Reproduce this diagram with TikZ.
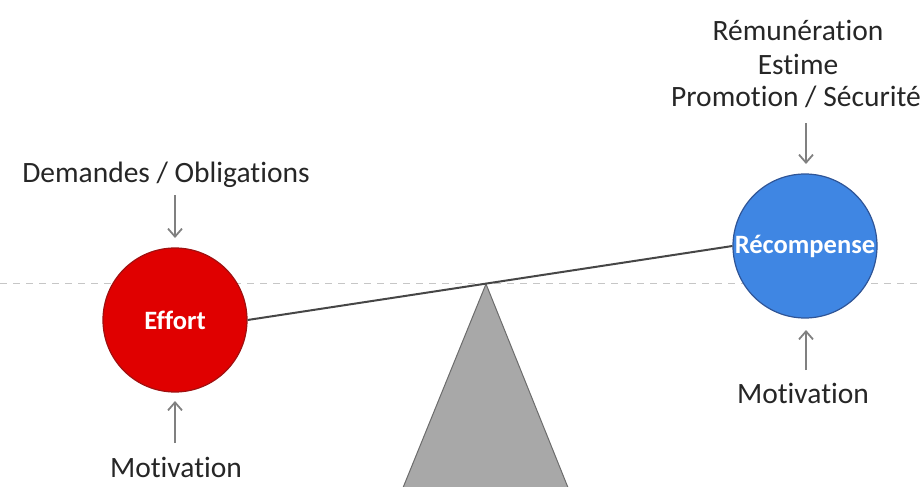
\documentclass[tikz,border=0pt]{standalone}
\usepackage{fontspec}
\setmainfont{Carlito}[Ligatures=NoCommon]
\usetikzlibrary{arrows.meta}
\definecolor{effred}{HTML}{E00000}
\definecolor{effredline}{HTML}{A01010}
\definecolor{recblue}{HTML}{3F86E3}
\definecolor{recblueline}{HTML}{2F5597}
\definecolor{arrgray}{HTML}{808080}
\definecolor{fulcrum}{HTML}{A8A8A8}
\tikzset{
  lbl/.style={font=\fontsize{29.5}{33.5}\selectfont, text=black!85, inner sep=0pt, align=center},
  ball/.style={circle, minimum size=144pt, inner sep=0pt, line width=1.2pt, text=white, font=\fontsize{26.5}{30}\selectfont\bfseries},
  push/.style={draw=arrgray, line width=1.8pt, -{Straight Barb[length=8pt,width=14pt]}},
}
\begin{document}
\begin{tikzpicture}[x=1pt,y=-1pt]
\useasboundingbox (0,0) rectangle (921,487);
\clip (0,0) rectangle (921,487);
% horizontal dashed reference
\draw[gray!45, line width=1pt, dash pattern=on 7pt off 6pt] (0,283) -- (921,283);
% fulcrum
\coordinate (apex) at (486,284);
\coordinate (bl) at (398,500);
\coordinate (br) at (573,500);
\filldraw[fill=fulcrum, draw=gray!85!black, line width=1pt] (apex) -- (br) -- (bl) -- cycle;
% balls
\node[ball, fill=effred, draw=effredline] (eff) at (175,320) {Effort};
\node[ball, fill=recblue, draw=recblueline] (rec) at (805,246) {Récompense};
% beam
\draw[gray!55!black, line width=2pt] (eff.east) -- (rec.west);
% labels
\node[lbl] (dem) at (166,175) {Demandes / Obligations};
\node[lbl] (mot1) at (176,467) {Motivation};
\node[lbl] (rem1) at (798,30) {Rémunération};
\node[lbl] (rem2) at (798,64) {Estime};
\node[lbl] (rem3) at (796,97) {Promotion / Sécurité};
\node[lbl] (mot2) at (803,393) {Motivation};
% arrows
\coordinate (a1s) at (175,195); \coordinate (a1e) at (175,238);
\coordinate (a2s) at (175,443); \coordinate (a2e) at (175,401);
\coordinate (a3s) at (806,123); \coordinate (a3e) at (806,164);
\coordinate (a4s) at (806,370); \coordinate (a4e) at (806,330);
\draw[push] (a1s) -- (a1e);
\draw[push] (a2s) -- (a2e);
\draw[push] (a3s) -- (a3e);
\draw[push] (a4s) -- (a4e);
\end{tikzpicture}
\end{document}
